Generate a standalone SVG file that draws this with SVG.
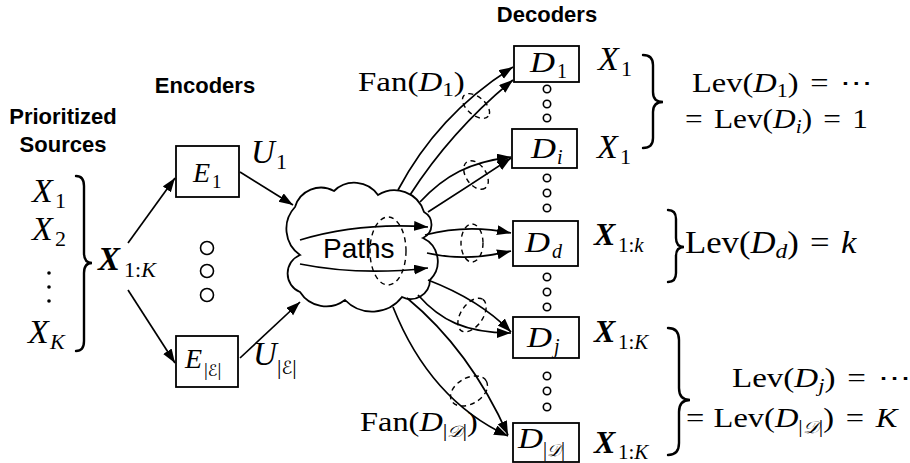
<svg xmlns="http://www.w3.org/2000/svg" width="910" height="463" viewBox="0 0 910 463">
<style>
.hd{font-family:"Liberation Sans",Arial,sans-serif;font-weight:bold;font-size:22px;text-anchor:middle;fill:#000}
.m{font-family:"Liberation Serif","Times New Roman","DejaVu Serif",serif;fill:#000}
.it{font-style:italic}
.bi{font-style:italic;font-weight:bold}
.cal{font-family:"DejaVu Serif","DejaVu Sans",serif;font-style:italic;fill:#000}
.box{fill:#fff;stroke:#000;stroke-width:1.8}
.dot{fill:#fff;stroke:#000;stroke-width:1.6}
.arr{fill:none;stroke:#000;stroke-width:1.7;marker-end:url(#ah)}
.dash{fill:none;stroke:#000;stroke-width:1.4;stroke-dasharray:5 4}
.brace{fill:none;stroke:#000;stroke-width:2.4;stroke-linecap:round}
</style>
<defs>
<marker id="ah" markerUnits="userSpaceOnUse" markerWidth="15" markerHeight="11" refX="14" refY="5" orient="auto">
<path d="M0,0 L14,5 L0,10 z" fill="#000"/>
</marker>
</defs>
<rect width="910" height="463" fill="#fff"/>

<g id="titles">
<text class="hd" x="63" y="124">Prioritized</text>
<text class="hd" x="63" y="152">Sources</text>
<text class="hd" x="205" y="93">Encoders</text>
<text class="hd" x="547" y="22">Decoders</text>
</g>

<g id="sources">
<text class="m it" x="32" y="202" font-size="34">X</text><text class="m" x="55" y="208" font-size="22">1</text>
<text class="m it" x="32" y="240" font-size="34">X</text><text class="m" x="55" y="246" font-size="22">2</text>
<circle cx="49" cy="273" r="1.8"/><circle cx="49" cy="287" r="1.8"/><circle cx="49" cy="301" r="1.8"/>
<text class="m it" x="28" y="343" font-size="34">X</text><text class="m it" x="50" y="349" font-size="22">K</text>
<path class="brace" d="M76,176 Q84,176 84,186 L84,253 Q84,263 92,263 Q84,263 84,273 L84,341 Q84,351 76,351"/>
<text class="m bi" x="98" y="270" font-size="33">X</text><text class="m" x="124" y="277" font-size="22">1:<tspan class="it">K</tspan></text>
</g>

<g id="encoder-1">
<rect class="box" x="176" y="146" width="63" height="51"/>
<text class="m it" x="193" y="182" font-size="28">E</text><text class="m" x="212" y="188" font-size="19">1</text>
<text class="m it" x="251" y="163" font-size="33">U</text><text class="m" x="276" y="169" font-size="22">1</text>
</g>
<g id="encoder-dots">
<circle class="dot" cx="207" cy="248" r="6.5"/><circle class="dot" cx="207" cy="271" r="6.5"/><circle class="dot" cx="207" cy="295" r="6.5"/>
</g>
<g id="encoder-E">
<rect class="box" x="176" y="336" width="62" height="51"/>
<text class="m it" x="185" y="368" font-size="28">E</text><text class="m" x="204" y="376" font-size="19">|<tspan class="cal" font-size="16">ℰ</tspan>|</text>
<text class="m it" x="253" y="365" font-size="33">U</text><text class="m" x="277" y="374" font-size="22">|<tspan class="cal" font-size="18">ℰ</tspan>|</text>
</g>

<g id="paths-cloud">
<path d="M300,255 A32,32 0 0 1 295,207 A27,27 0 0 1 334,191 A29,29 0 0 1 378,195 A31,31 0 0 1 424,212 A14.6,14.6 0 0 1 423,238 A26,26 0 0 1 430,280 A19.4,19.4 0 0 1 402,297 A37.7,37.7 0 0 1 345,300 A31,31 0 0 1 300,292 A20,20 0 0 1 300,255 Z" fill="#fff" stroke="#000" stroke-width="1.8"/>
<text x="323" y="258" font-family="Liberation Sans,Arial,sans-serif" font-size="28">Paths</text>
</g>

<g id="decoder-1">
<rect class="box" x="514" y="46" width="65" height="36"/>
<text class="m it" x="530" y="72" font-size="30" textLength="25" lengthAdjust="spacingAndGlyphs">D</text><text class="m" x="557" y="78" font-size="20">1</text>
</g>
<g id="decoder-i">
<rect class="box" x="512" y="129" width="65" height="39"/>
<text class="m it" x="531" y="158" font-size="30" textLength="25" lengthAdjust="spacingAndGlyphs">D</text><text class="m it" x="557" y="164" font-size="20">i</text>
</g>
<g id="decoder-d">
<rect class="box" x="513" y="221" width="65" height="45"/>
<text class="m it" x="525" y="252" font-size="30" textLength="25" lengthAdjust="spacingAndGlyphs">D</text><text class="m it" x="552" y="258" font-size="20">d</text>
</g>
<g id="decoder-j">
<rect class="box" x="513" y="317" width="66" height="41"/>
<text class="m it" x="527" y="347" font-size="30" textLength="25" lengthAdjust="spacingAndGlyphs">D</text><text class="m it" x="554" y="353" font-size="20">j</text>
</g>
<g id="decoder-D">
<rect class="box" x="513" y="423" width="66" height="39"/>
<text class="m it" x="518" y="448" font-size="30" textLength="25" lengthAdjust="spacingAndGlyphs">D</text><text class="m" x="543" y="456" font-size="20">|<tspan class="cal" font-size="17">𝒟</tspan>|</text>
</g>
<g id="decoder-dots">
<circle class="dot" cx="547" cy="89" r="3.7"/><circle class="dot" cx="547" cy="104" r="3.7"/><circle class="dot" cx="547" cy="118" r="3.7"/>
<circle class="dot" cx="547" cy="178" r="3.7"/><circle class="dot" cx="547" cy="193" r="3.7"/><circle class="dot" cx="547" cy="208" r="3.7"/>
<circle class="dot" cx="547" cy="277" r="3.7"/><circle class="dot" cx="547" cy="292" r="3.7"/><circle class="dot" cx="547" cy="307" r="3.7"/>
<circle class="dot" cx="547" cy="376" r="3.7"/><circle class="dot" cx="547" cy="391" r="3.7"/><circle class="dot" cx="547" cy="407" r="3.7"/>
</g>

<g id="connectors">
<path class="arr" d="M128,243 L175,178"/>
<path class="arr" d="M128,290 L175,363"/>
<path class="arr" d="M240,172 L293,205"/>
<path class="arr" d="M240,358 L300,302"/>
<path class="arr" d="M300,240 Q360,222 428,227"/>
<path class="arr" d="M300,264 Q360,276 428,268"/>
<path class="arr" d="M398,190 Q438,114 513,67"/>
<path class="arr" d="M410,195 Q452,130 513,80"/>
<path class="arr" d="M420,202 C445,175 470,162 511,157"/>
<path class="arr" d="M428,212 Q470,185 511,158"/>
<path class="arr" d="M425,235 Q467,224 511,233"/>
<path class="arr" d="M427,253 Q467,262 511,251"/>
<path class="arr" d="M428,280 Q480,300 511,332"/>
<path class="arr" d="M418,295 C440,320 465,333 511,333"/>
<path class="arr" d="M407,298 Q470,350 508,435"/>
<path class="arr" d="M393,307 Q430,400 508,436"/>
</g>

<g id="fan-sets">
<ellipse class="dash" cx="388" cy="251" rx="18" ry="34"/>
<ellipse class="dash" cx="476" cy="106" rx="16" ry="9" transform="rotate(40 476 106)"/>
<ellipse class="dash" cx="476" cy="175" rx="16" ry="10" transform="rotate(55 476 175)"/>
<ellipse class="dash" cx="472" cy="243" rx="11" ry="19"/>
<ellipse class="dash" cx="472" cy="315" rx="19" ry="11" transform="rotate(-55 472 315)"/>
<ellipse class="dash" cx="469" cy="391" rx="20" ry="13" transform="rotate(-30 469 391)"/>
</g>

<g id="fan-labels">
<text class="m" transform="translate(358,91) scale(1.22,1)" font-size="27">Fan(<tspan class="it">D</tspan><tspan font-size="19" dy="5">1</tspan><tspan dy="-5">)</tspan></text>
<text class="m" transform="translate(360,431) scale(1.2,1)" font-size="27">Fan(<tspan class="it">D</tspan><tspan font-size="19" dy="6">|<tspan class="cal" font-size="16">𝒟</tspan>|</tspan><tspan dy="-6">)</tspan></text>
</g>

<g id="levels">
<text class="m it" x="598" y="70" font-size="34">X</text><text class="m" x="621" y="76" font-size="22">1</text>
<text class="m it" x="597" y="158" font-size="34">X</text><text class="m" x="620" y="164" font-size="22">1</text>
<path class="brace" d="M643,55 Q653,55 653,65 L653,92 Q653,102 663,102 Q653,102 653,112 L653,138 Q653,148 643,148"/>
<text class="m" transform="translate(692,92) scale(1.16,1)" font-size="28">Lev(<tspan class="it">D</tspan><tspan font-size="19" dy="5">1</tspan><tspan dy="-5">)</tspan><tspan dx="10">=</tspan><tspan dx="10">⋯</tspan></text>
<text class="m" transform="translate(685,128) scale(1.12,1)" font-size="28">=<tspan dx="10">Lev(</tspan><tspan class="it">D</tspan><tspan class="it" font-size="19" dy="5">i</tspan><tspan dy="-5">)</tspan><tspan dx="10">=</tspan><tspan dx="10">1</tspan></text>

<text class="m bi" x="594" y="245" font-size="32">X</text><text class="m" x="618" y="252" font-size="21">1:<tspan class="it">k</tspan></text>
<path class="brace" d="M668,210 Q676,210 676,219 L676,238 Q676,247 684,247 Q676,247 676,256 L676,273 Q676,282 668,282"/>
<text class="m" transform="translate(685,253) scale(1.12,1)" font-size="31">Lev(<tspan class="it">D</tspan><tspan class="it" font-size="21" dy="5">d</tspan><tspan dy="-5">)</tspan><tspan dx="10">=</tspan><tspan class="it" dx="10">k</tspan></text>

<text class="m bi" x="594" y="342" font-size="32">X</text><text class="m" x="618" y="349" font-size="21">1:<tspan class="it">K</tspan></text>
<text class="m bi" x="594" y="453" font-size="32">X</text><text class="m" x="618" y="459" font-size="21">1:<tspan class="it">K</tspan></text>
<path class="brace" d="M668,328 Q679,328 679,340 L679,388 Q679,400 690,400 Q679,400 679,412 L679,443 Q679,455 668,455"/>
<text class="m" transform="translate(732,387) scale(1.18,1)" font-size="28">Lev(<tspan class="it">D</tspan><tspan class="it" font-size="19" dy="5">j</tspan><tspan dy="-5">)</tspan><tspan dx="10">=</tspan><tspan dx="10">⋯</tspan></text>
<text class="m" transform="translate(686,427) scale(1.16,1)" font-size="28">=<tspan dx="8">Lev(</tspan><tspan class="it">D</tspan><tspan font-size="19" dy="6">|<tspan class="cal" font-size="17">𝒟</tspan>|</tspan><tspan dy="-6">)</tspan><tspan dx="10">=</tspan><tspan class="it" dx="10">K</tspan></text>
</g>
</svg>
